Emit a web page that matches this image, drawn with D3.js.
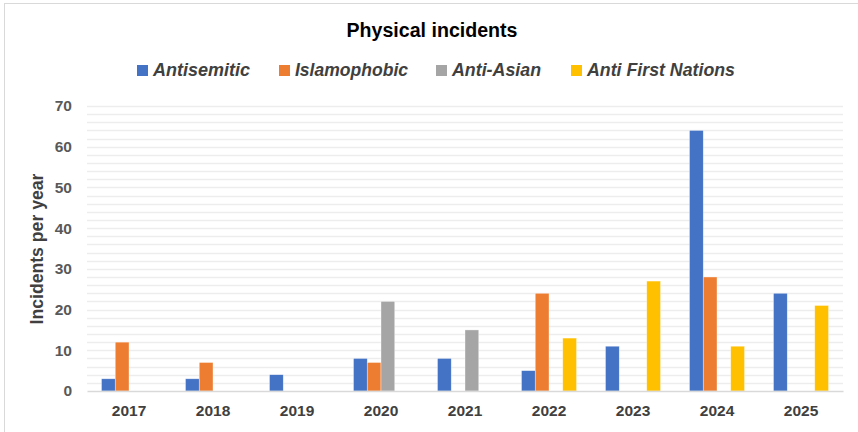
<!DOCTYPE html>
<html>
<head>
<meta charset="utf-8">
<script src="https://cdn.jsdelivr.net/npm/d3@7"></script>
<style>
  html, body { margin: 0; padding: 0; background: #fff; }
  svg { display: block; }
  text { font-family: "Liberation Sans", Arial, sans-serif; }
</style>
</head>
<body>
<svg id="chart" width="858" height="432"></svg>
<script>
const years = ["2017", "2018", "2019", "2020", "2021", "2022", "2023", "2024", "2025"];
const seriesNames = ["Antisemitic", "Islamophobic", "Anti-Asian", "Anti First Nations"];
const antisemitic = [3, 3, 4, 8, 8, 5, 11, 64, 24];
const islamophobic = [12, 7, 0, 7, 0, 24, 0, 28, 0];
const antiAsian = [0, 0, 0, 22, 15, 0, 0, 0, 0];
const antiFirstNations = [0, 0, 0, 0, 0, 13, 27, 11, 21];
const yTicks = [0, 10, 20, 30, 40, 50, 60, 70];
const colors = ["#4472C4", "#ED7D31", "#A5A5A5", "#FFC000"];

const seriesValues = [antisemitic, islamophobic, antiAsian, antiFirstNations];

const svg = d3.select("#chart");

// outer border (chart area)
svg.append("rect")
  .attr("x", 4.5).attr("y", 3.5)
  .attr("width", 900).attr("height", 500)
  .attr("fill", "#fff").attr("stroke", "#d9d9d9").attr("stroke-width", 1);

const plotLeft = 87, plotRight = 843, plotTop = 106, plotBottom = 391;

const x0 = d3.scaleBand().domain(years).range([plotLeft, plotRight]).padding(0);
const groupW = x0.bandwidth() * 0.655;
const x1 = d3.scaleBand().domain(seriesNames)
  .range([(x0.bandwidth() - groupW) / 2, (x0.bandwidth() + groupW) / 2]).padding(0);
const y = d3.scaleLinear().domain([0, 70]).range([plotBottom, plotTop]);

// minor gridlines every 2
const gridVals = d3.range(2, 71, 2);
svg.append("g").selectAll("line").data(gridVals).join("line")
  .attr("x1", plotLeft).attr("x2", plotRight)
  .attr("y1", d => Math.round(y(d)) + 0.5).attr("y2", d => Math.round(y(d)) + 0.5)
  .attr("stroke", "#ededed").attr("stroke-width", 1.3);

// y axis labels
const yAxis = d3.axisLeft(y).tickValues(yTicks).tickSize(0).tickPadding(15);
const gy = svg.append("g").attr("transform", `translate(${plotLeft},0)`).call(yAxis);
gy.select(".domain").remove();
gy.selectAll("text")
  .attr("font-size", 15.5).attr("font-weight", "bold").attr("fill", "#595959")
  .style("font-family", '"Liberation Sans", Arial, sans-serif');

// bars
seriesNames.forEach((name, si) => {
  svg.append("g").selectAll("rect")
    .data(years.map((yr, i) => ({ yr, v: seriesValues[si][i] })).filter(d => d.v > 0))
    .join("rect")
    .attr("x", d => x0(d.yr) + x1(name))
    .attr("y", d => y(d.v))
    .attr("width", x1.bandwidth())
    .attr("height", d => y(0) - y(d.v))
    .attr("fill", colors[si])
    .attr("stroke", "#ffffff").attr("stroke-width", 0.6).attr("stroke-opacity", 0.6);
});

// baseline + x axis
const xAxis = d3.axisBottom(x0).tickSize(0).tickPadding(14);
const gx = svg.append("g").attr("transform", `translate(0,${plotBottom})`).call(xAxis);
gx.select(".domain").attr("stroke", "#d9d9d9").attr("stroke-width", 1.3);
gx.selectAll("text")
  .attr("font-size", 15.5).attr("font-weight", "bold").attr("fill", "#404040")
  .style("font-family", '"Liberation Sans", Arial, sans-serif');

// title
svg.append("text")
  .attr("x", 432).attr("y", 37)
  .attr("text-anchor", "middle")
  .attr("font-size", 19.5).attr("font-weight", "bold").attr("fill", "#000")
  .attr("textLength", 171).attr("lengthAdjust", "spacingAndGlyphs")
  .text("Physical incidents");

// y axis title
svg.append("text")
  .attr("transform", "translate(43,249) rotate(-90)")
  .attr("text-anchor", "middle")
  .attr("font-size", 18).attr("font-weight", "bold").attr("fill", "#404040")
  .attr("textLength", 151).attr("lengthAdjust", "spacingAndGlyphs")
  .text("Incidents per year");

// legend
const legendItems = [
  { sx: 137, tx: 153, w: 97 },
  { sx: 279, tx: 295, w: 113 },
  { sx: 436, tx: 452, w: 89 },
  { sx: 571, tx: 587, w: 148 }
];
const lg = svg.append("g");
seriesNames.forEach((name, i) => {
  const it = legendItems[i];
  lg.append("rect").attr("x", it.sx).attr("y", 65).attr("width", 11).attr("height", 11)
    .attr("fill", colors[i]);
  lg.append("text").attr("x", it.tx).attr("y", 76)
    .attr("font-size", 17.5).attr("font-weight", "bold").attr("font-style", "italic")
    .attr("fill", "#404040")
    .attr("textLength", it.w).attr("lengthAdjust", "spacingAndGlyphs")
    .text(name);
});
</script>
</body>
</html>
